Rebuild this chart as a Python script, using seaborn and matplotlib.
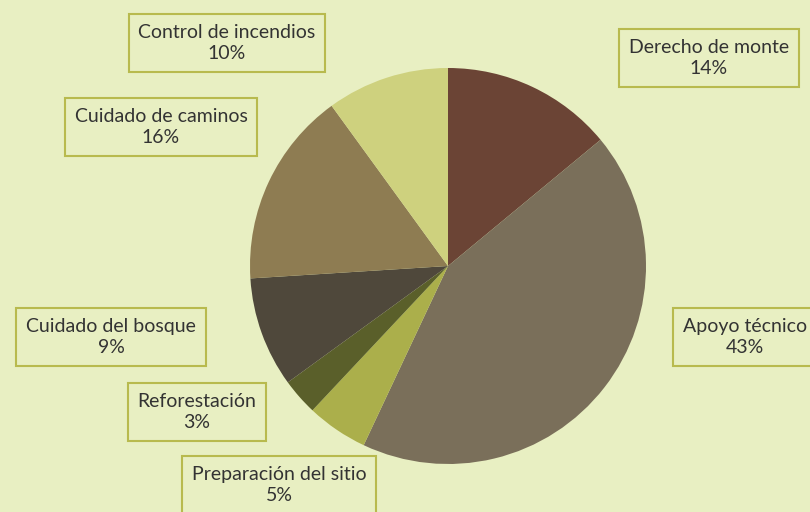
import matplotlib.pyplot as plt
import seaborn as sns

labels = ['Derecho de monte', 'Apoyo técnico', 'Preparación del sitio', 'Reforestación',
          'Cuidado del bosque', 'Cuidado de caminos', 'Control de incendios']
values = [14, 43, 5, 3, 9, 16, 10]
colors = ['#6B4435', '#7A6F5A', '#ABAF4B', '#5A5F2A', '#4F483B', '#8E7C52', '#CED17E']
# label centres in pixel coords of the 810x512 picture
label_px = [(709, 58), (745, 337), (279, 485), (197, 412), (111, 337), (161, 127), (227, 43)]

sns.set_style('white')
plt.rcParams['font.family'] = ['Lato', 'DejaVu Sans']

bg = '#E8EFC2'
fig = plt.figure(figsize=(8.1, 5.12), dpi=100, facecolor=bg)
ax = fig.add_axes([0, 0, 1, 1])
ax.set_facecolor(bg)

cx, cy, r = 448, 266, 198
ax.pie(values, colors=colors, startangle=90, counterclock=False, radius=1,
       wedgeprops={'linewidth': 0})
ax.set_xlim(-cx / r, (810 - cx) / r)
ax.set_ylim(-(512 - cy) / r, cy / r)
ax.set_aspect('auto')
ax.axis('off')

for lab, v, (px, py) in zip(labels, values, label_px):
    ax.text((px - cx) / r, (cy - py) / r, f'{lab}\n{v}%', ha='center', va='center',
            fontsize=14, color='#333333', linespacing=1.35,
            bbox=dict(boxstyle='square,pad=0.5', facecolor=bg, edgecolor='#B8BA4E', linewidth=1.5))

fig.savefig('out.png', dpi=100, facecolor=bg)
